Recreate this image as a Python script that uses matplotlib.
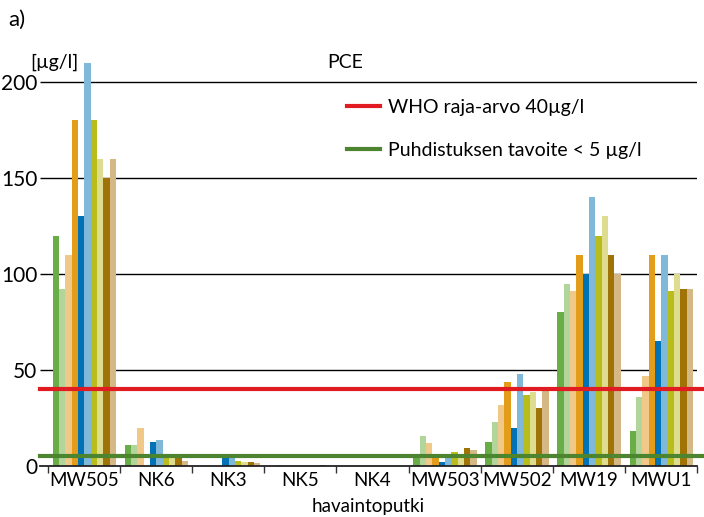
import matplotlib as mpl
mpl.use('Agg')
import matplotlib.pyplot as plt
from matplotlib.lines import Line2D
import numpy as np

plt.rcParams['font.family'] = ['Lato', 'DejaVu Sans']

wells = ['MW505', 'NK6', 'NK3', 'NK5', 'NK4', 'MW503', 'MW502', 'MW19', 'MWU1']

# one list per sampling round (10 rounds), values per well in the order above
r1 = [120, 11, 0, 0, 0, 6.3, 12.5, 80, 18]
r2 = [92, 11, 0, 0.3, 0, 15.6, 23, 95, 36]
r3 = [110, 20, 0, 0, 0, 12, 32, 91, 47]
r4 = [180, 0, 0, 0, 0, 6.3, 44, 110, 110]
r5 = [130, 12.5, 4, 0, 0, 2, 20, 100, 65]
r6 = [210, 13.5, 4, 0, 0, 5.5, 48, 140, 110]
r7 = [180, 4, 2.6, 0, 0, 7.3, 37, 120, 91]
r8 = [160, 4, 2, 0, 0, 6.3, 38.5, 130, 100]
r9 = [150, 4, 2, 0.3, 0, 9.4, 30, 110, 92]
r10 = [160, 2.5, 1.5, 0, 0, 8.3, 39, 100, 92]

rounds = [r1, r2, r3, r4, r5, r6, r7, r8, r9, r10]
colors = ['#68AD45', '#B2D59C', '#F0C888', '#E49D1A', '#0072B5',
          '#80B8DA', '#B8BD1C', '#DEDD8F', '#A07308', '#D4B886']

who_limit = 40
target = 5

fig = plt.figure(figsize=(7.04, 5.17), dpi=100)
ax = fig.add_axes([40 / 704, 51 / 517, 657 / 704, 422.4 / 517])

x = np.arange(len(wells))
w = 0.0878
for j, vals in enumerate(rounds):
    ax.bar(x + (j - 4.5) * w + 0.004, vals, width=w, color=colors[j],
           linewidth=0, zorder=2)

xmin, xmax = -0.611, 8.5
ax.set_xlim(xmin, xmax)
ax.set_ylim(0, 220)

# horizontal grid lines behind the bars
ax.hlines([50, 100, 150, 200], xmin, xmax, color='black', lw=1, zorder=1)

# limit lines run a little past the plot on the right
ax.plot([xmin, 8.597], [who_limit, who_limit], color='#E01B22', lw=3,
        zorder=3, clip_on=False)
ax.plot([xmin, 8.597], [target, target], color='#4C8430', lw=3,
        zorder=3, clip_on=False)

for s in ['top', 'right', 'left']:
    ax.spines[s].set_visible(False)
ax.spines['bottom'].set_color('#222222')
ax.spines['bottom'].set_linewidth(1.3)

ax.set_xticks(x)
ax.set_xticklabels(wells, fontsize=13.5)
ax.set_xticks(np.arange(-0.5, 9, 1), minor=True)
ax.tick_params(axis='x', which='major', length=0, pad=4)
ax.tick_params(axis='x', which='minor', length=5, width=1, color='#333333')
ax.set_yticks([0, 50, 100, 150, 200])
ax.tick_params(axis='y', length=0, pad=2, labelsize=15)

ax.set_xlabel('havaintoputki', fontsize=13.5, labelpad=7)

fig.text(345 / 704, 1 - 62 / 517, 'PCE', fontsize=14, ha='center', va='center')
fig.text(30 / 704, 1 - 62 / 517, '[µg/l]', fontsize=14, ha='left', va='center')
fig.text(8 / 704, 1 - 20 / 517, 'a)', fontsize=16, ha='left', va='center')

handles = [Line2D([], [], color='#E01B22', lw=3),
           Line2D([], [], color='#4C8430', lw=3)]
fig.legend(handles, ['WHO raja-arvo 40µg/l', 'Puhdistuksen tavoite < 5 µg/l'],
           loc='upper left', bbox_to_anchor=(337 / 704, 1 - 89 / 517),
           frameon=False, fontsize=14, handlelength=1.7, handletextpad=0.4,
           labelspacing=1.35, borderpad=0)

plt.savefig('out.png', dpi=100)
